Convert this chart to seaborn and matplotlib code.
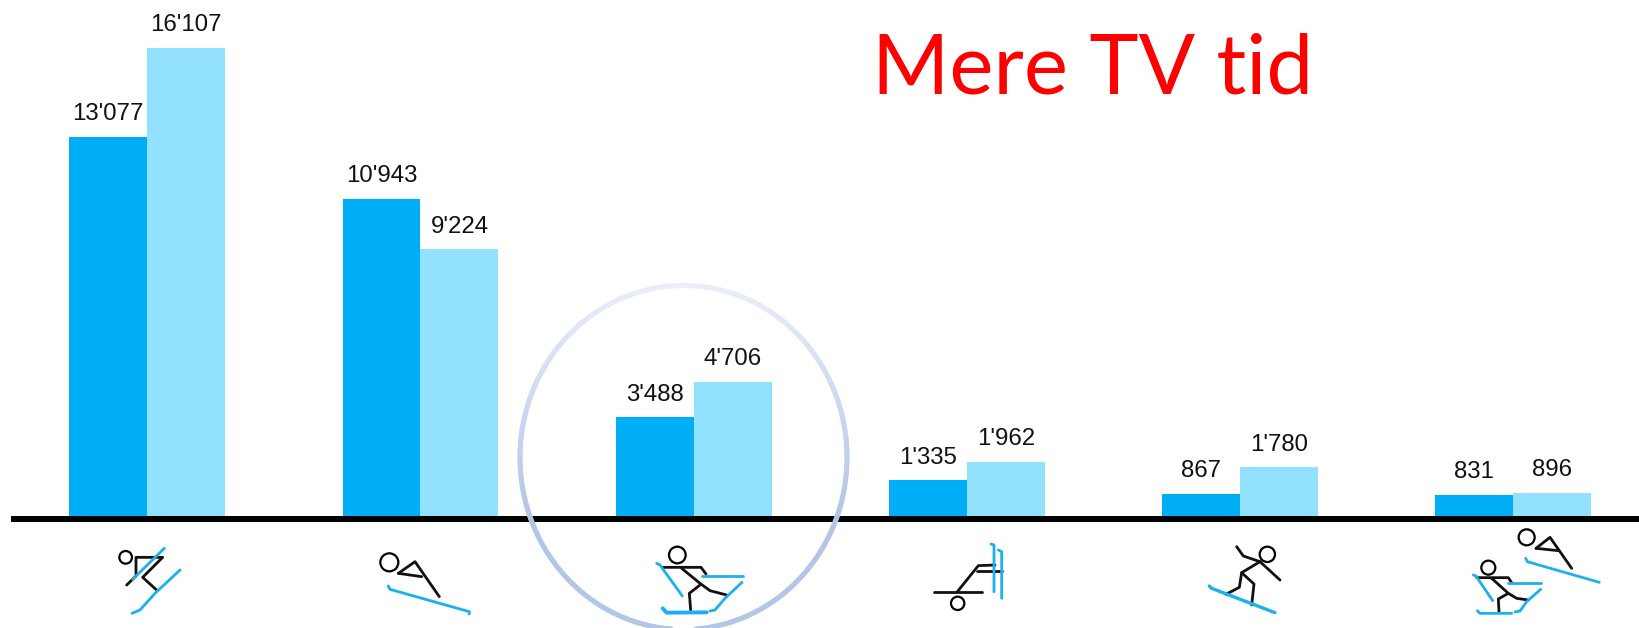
import numpy as np
import pandas as pd
import seaborn as sns
import matplotlib
matplotlib.use("Agg")
import matplotlib.pyplot as plt
from matplotlib.collections import LineCollection
from matplotlib.patches import Circle

categories = ["Alpint", "Skihop", "Langrend", "Kaelk", "Snowboard", "Kombineret"]
series_a = [13077, 10943, 3488, 1335, 867, 831]
series_b = [16107, 9224, 4706, 1962, 1780, 896]
labels_a = ["13'077", "10'943", "3'488", "1'335", "867", "831"]
labels_b = ["16'107", "9'224", "4'706", "1'962", "1'780", "896"]
title_text = "Mere TV tid"

DARK = "#00AEF5"
LIGHT = "#92E1FF"
ICON_BLUE = "#1BB0EE"

W, H = 1639, 628
df = pd.DataFrame({
    "sport": categories * 2,
    "periode": ["A"] * 6 + ["B"] * 6,
    "tid": series_a + series_b,
})

sns.set_theme(style="white")
plt.rcParams["font.family"] = ["Liberation Sans", "DejaVu Sans"]
fig = plt.figure(figsize=(W / 100, H / 100), dpi=100, facecolor="white")
ax = fig.add_axes([0, 0, 1, 1])
sns.barplot(data=df, x="sport", y="tid", hue="periode", hue_order=["A", "B"],
            palette=[DARK, LIGHT], width=0.571, gap=0, saturation=1,
            legend=False, ax=ax, errorbar=None, linewidth=0)

px_per_cat = 273.2
y0 = 519.5
px_per_unit = (y0 - 48.0) / 16107
x0 = 147.3
ax.set_xlim(-x0 / px_per_cat, (W - x0) / px_per_cat)
ax.set_ylim(-(H - y0) / px_per_unit, y0 / px_per_unit)
ax.axis("off")

for cont, labs in zip(ax.containers, [labels_a, labels_b]):
    ax.bar_label(cont, labels=labs, padding=8.5, fontsize=17.3, color="#111111")

# Overlay in picture pixels for baseline, pictograms, circle and title
ov = fig.add_axes([0, 0, 1, 1], facecolor="none")
ov.set_xlim(0, W)
ov.set_ylim(H, 0)
ov.axis("off")

ov.fill_between([11, W], 515.5, 522, color="black", lw=0, zorder=2)


def poly(off, pts, color, lw=2.0):
    xs = [off[0] + p[0] / 3 for p in pts]
    ys = [off[1] + p[1] / 3 for p in pts]
    ov.plot(xs, ys, color=color, lw=lw, solid_capstyle="round",
            solid_joinstyle="round", zorder=3)


def head(off, c, r, lw=1.6):
    ov.add_patch(Circle((off[0] + c[0] / 3, off[1] + c[1] / 3), r / 3,
                        fill=False, ec="black", lw=lw, zorder=3))


A = (60, 500)
B = (620, 500)
C = (1180, 500)

# Icon 1
head(A, (197, 172), 19)
for p in [[(228, 222), (228, 172), (308, 172), (248, 232), (292, 272)],
          [(200, 255), (228, 228)]]:
    poly(A, p, "#111111")
for p in [[(313, 145), (218, 238)],
          [(360, 210), (285, 280), (240, 330), (216, 340)]]:
    poly(A, p, ICON_BLUE)

# Icon 2
head(A, (988, 187), 27)
for p in [[(1015, 220), (1065, 185), (1138, 290)], [(1015, 220), (1085, 230)]]:
    poly(A, p, "#111111")
poly(A, [(985, 258), (990, 268), (1228, 335), (1228, 342)], ICON_BLUE)

# Icon 3
head(B, (172, 165), 25)
for p in [[(130, 202), (243, 202), (258, 222)],
          [(185, 205), (240, 250), (270, 272), (320, 285)],
          [(240, 255), (208, 280), (212, 330)]]:
    poly(B, p, "#111111")
for p in [[(110, 190), (120, 195), (187, 288)],
          [(245, 227), (368, 227)],
          [(366, 247), (315, 295), (285, 330), (270, 333)]]:
    poly(B, p, ICON_BLUE)
poly(B, [(128, 325), (140, 338), (260, 337)], ICON_BLUE, 2.8)

# Icon 4
head(B, (1013, 310), 20)
for p in [[(942, 275), (1085, 275)],
          [(1012, 275), (1075, 197), (1125, 195)],
          [(1070, 213), (1147, 213)]]:
    poly(B, p, "#111111")
for p in [[(1113, 132), (1122, 135), (1122, 275)],
          [(1135, 150), (1145, 155), (1145, 295)]]:
    poly(B, p, ICON_BLUE)

# Icon 5
head(C, (262, 163), 23)
for p in [[(170, 140), (190, 168), (240, 185), (300, 240)],
          [(240, 185), (185, 218), (178, 262), (138, 283)],
          [(185, 218), (222, 252), (215, 315)]]:
    poly(C, p, "#111111")
poly(C, [(88, 258), (95, 265), (285, 338)], ICON_BLUE, 2.4)

# Icon 6
head(C, (1040, 112), 24)
for p in [[(1068, 145), (1110, 112), (1175, 205)], [(1068, 145), (1135, 152)]]:
    poly(C, p, "#111111")
poly(C, [(1037, 175), (1042, 185), (1258, 247)], ICON_BLUE)
head(C, (925, 203), 21)
for p in [[(890, 233), (985, 233), (995, 248)],
          [(935, 235), (985, 280), (1010, 295), (1045, 300)],
          [(985, 280), (955, 297), (957, 335)]]:
    poly(C, p, "#111111")
for p in [[(880, 225), (888, 228), (938, 302)],
          [(985, 250), (1083, 250)],
          [(1082, 268), (1040, 305), (1020, 333), (1005, 336)],
          [(892, 332), (900, 340), (995, 340)]]:
    poly(C, p, ICON_BLUE)

# Highlight circle with a top-to-bottom fade
cx, cy, rx, ry = 683.5, 457.5, 163.5, 172.0
t = np.linspace(0, 2 * np.pi, 361)
ex = cx + rx * np.cos(t)
ey = cy + ry * np.sin(t)
segs = np.stack([np.column_stack([ex[:-1], ey[:-1]]),
                 np.column_stack([ex[1:], ey[1:]])], axis=1)
top = np.array(matplotlib.colors.to_rgb("#EAEEF8"))
bot = np.array(matplotlib.colors.to_rgb("#B4C6E7"))
frac = np.clip((segs[:, 0, 1] - (cy - ry)) / (1.3 * ry), 0, 1)[:, None]
ov.add_collection(LineCollection(segs, colors=top + (bot - top) * frac,
                                 linewidths=3.6, capstyle="round", zorder=4))

ov.text(1093, 94, title_text, color="#FF0000", fontsize=60, ha="center",
        va="baseline", family=["Lato", "DejaVu Sans"], zorder=5)

fig.savefig("out.png", dpi=100, facecolor="white")
